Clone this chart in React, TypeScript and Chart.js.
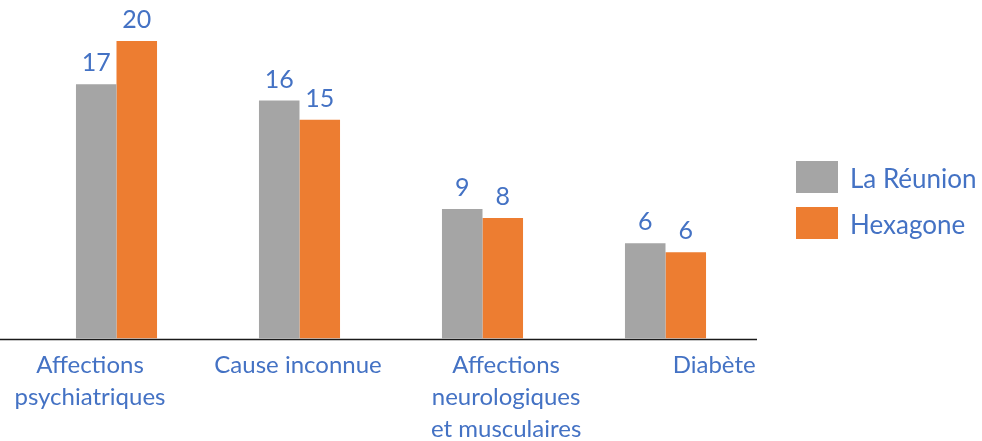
import React, { useEffect, useRef } from "react";
import { Chart, registerables } from "chart.js";

Chart.register(...registerables);

const categories: string[][] = [
  ["Affections", "psychiatriques"],
  ["Cause inconnue"],
  ["Affections", "neurologiques", "et musculaires"],
  ["Diabète"],
];
const seriesNames = ["La Réunion", "Hexagone"];
const reunionValues = [17.1, 16.0, 8.7, 6.4];
const hexagoneValues = [20.0, 14.7, 8.1, 5.8];

const FONT = "Lato";
const BLUE = "#4472C4";

const customPlugin = {
  id: "customDecor",
  afterDatasetsDraw(chart: any) {
    const ctx = chart.ctx;
    const area = chart.chartArea;
    const xScale = chart.scales.x;
    ctx.save();
    // axis line
    ctx.strokeStyle = "#1a1a1a";
    ctx.lineWidth = 1.5;
    ctx.beginPath();
    ctx.moveTo(0, area.bottom + 1);
    ctx.lineTo(area.right, area.bottom + 1);
    ctx.stroke();

    // data labels
    ctx.fillStyle = BLUE;
    ctx.font = `25px ${FONT}`;
    ctx.textAlign = "center";
    ctx.textBaseline = "alphabetic";
    chart.data.datasets.forEach((ds: any, di: number) => {
      const meta = chart.getDatasetMeta(di);
      meta.data.forEach((el: any, i: number) => {
        ctx.fillText(String(Math.round(ds.data[i])), el.x, el.y - 13);
      });
    });

    // category labels
    ctx.font = `24px ${FONT}`;
    const band = area.width / chart.data.labels.length;
    const step = band * 1.137;
    const x0 = xScale.getPixelForValue(0) - band * 0.145;
    chart.data.labels.forEach((lines: string[], i: number) => {
      lines.forEach((line, li) => {
        ctx.fillText(line, x0 + i * step, area.bottom + 34.5 + li * 32);
      });
    });

    // legend
    ctx.font = `26px ${FONT}`;
    const lx = area.right + 39;
    const ly = chart.height / 2 - 59.5;
    chart.data.datasets.forEach((ds: any, di: number) => {
      const top = ly + di * 46;
      ctx.fillStyle = ds.backgroundColor;
      ctx.fillRect(lx, top, 42, 32);
      ctx.fillStyle = BLUE;
      ctx.textAlign = "left";
      ctx.fillText(ds.label, lx + 54, top + 27);
    });
    ctx.restore();
  },
};

export default function App() {
  const ref = useRef<HTMLCanvasElement>(null);
  useEffect(() => {
    document.body.style.margin = "0";
    if (!ref.current) return;
    const chart = new Chart(ref.current, {
      type: "bar",
      data: {
        labels: categories as any,
        datasets: [
          {
            label: seriesNames[0],
            data: reunionValues,
            backgroundColor: "#A5A5A5",
            categoryPercentage: 0.443,
            barPercentage: 1,
          },
          {
            label: seriesNames[1],
            data: hexagoneValues,
            backgroundColor: "#ED7D31",
            categoryPercentage: 0.443,
            barPercentage: 1,
          },
        ],
      },
      options: {
        responsive: false,
        animation: false,
        layout: { padding: { left: 25, right: 225, top: 11.25, bottom: 102.5 } },
        plugins: { legend: { display: false }, tooltip: { enabled: false } },
        scales: {
          x: { display: false },
          y: { display: false, min: 0, max: 22 },
        },
      },
      plugins: [customPlugin],
    });
    return () => chart.destroy();
  }, []);
  return (
    <div style={{ width: 982, height: 441 }}>
      <canvas ref={ref} width={982} height={441} />
    </div>
  );
}
